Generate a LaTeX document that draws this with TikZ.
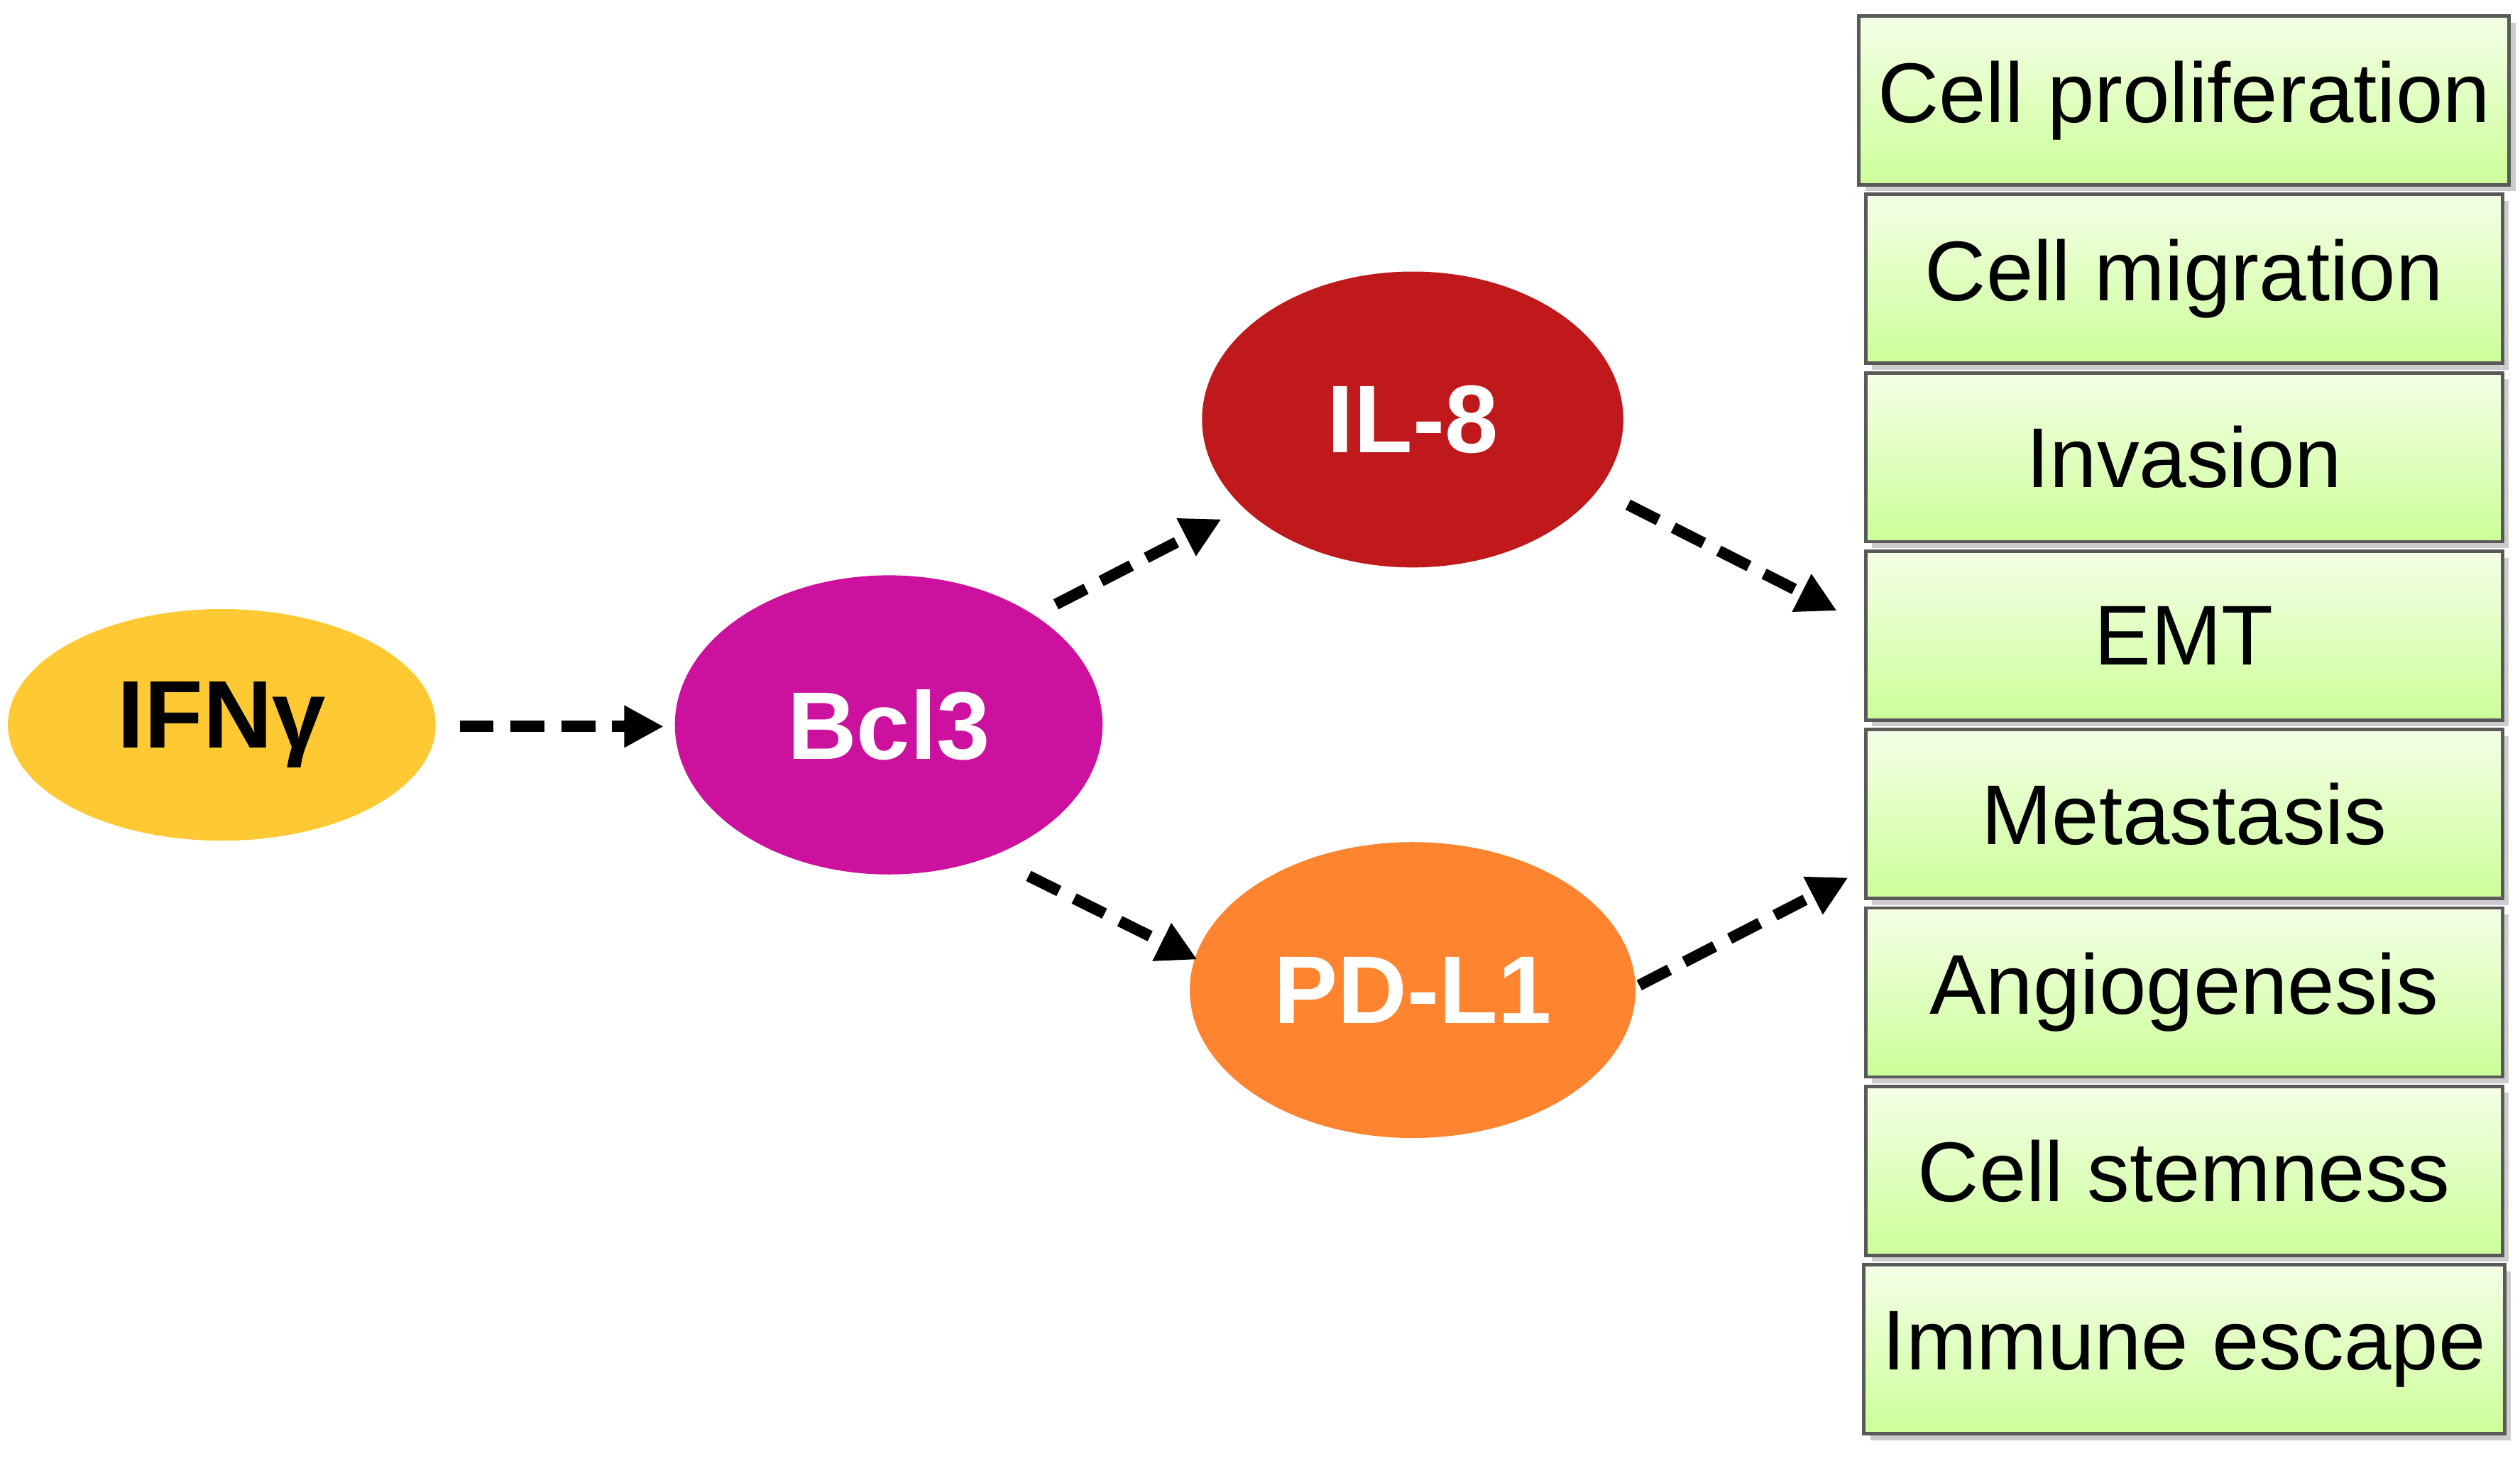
\documentclass[tikz,border=0pt]{standalone}
\usepackage{fontspec}
\setmainfont{Liberation Sans}
\usetikzlibrary{shapes.geometric,arrows.meta,shadows}
\definecolor{cy}{HTML}{FFC933}
\definecolor{cm}{HTML}{CC119E}
\definecolor{cr}{HTML}{C0191C}
\definecolor{co}{HTML}{FF8430}
\definecolor{gtop}{HTML}{F4FFE6}
\definecolor{gbot}{HTML}{CCFF99}
\begin{document}
\begin{tikzpicture}[x=0.01cm,y=-0.01cm,
 ell/.style={ellipse,draw=none,minimum width=2.62cm,minimum height=1.84cm,font=\fontsize{17}{20}\selectfont\bfseries,text=white},
 box/.style={rectangle,draw=gray!70!black,line width=0.6pt,top color=gtop,bottom color=gbot,minimum width=3.96cm,minimum height=1.05cm,font=\fontsize{15}{18}\selectfont,drop shadow={shadow xshift=0.04cm,shadow yshift=-0.04cm,opacity=0.4}},
 arr/.style={dashed,line width=2pt,dash pattern=on 6pt off 3pt,-{Triangle[length=7pt,width=7pt]}}]
\useasboundingbox (0,0) rectangle (1568,909);
\node[ell,fill=cy,text=black,minimum width=2.66cm,minimum height=1.44cm] (ifn) at (138,451) {IFNγ};
\node[ell,fill=cm,minimum width=2.66cm,minimum height=1.86cm] (bcl) at (553,451) {Bcl3};
\node[ell,fill=cr] (il) at (879,261) {IL-8};
\node[ell,fill=co] (pd) at (879,616) {PD-L1};
\foreach \t [count=\i] in {Cell proliferation,Cell migration,Invasion,EMT,Metastasis,Angiogenesis,Cell stemness,Immune escape}
  \node[box] (b\i) at (1359,{62.5+111*(\i-1)}) {\t};
\coordinate (a1s) at (286,452); \coordinate (a1e) at (413,452);
\coordinate (a2s) at (657,376); \coordinate (a2e) at (760,323);
\coordinate (a3s) at (640,545); \coordinate (a3e) at (745,597);
\coordinate (a4s) at (1013,314); \coordinate (a4e) at (1143,380);
\coordinate (a5s) at (1020,613); \coordinate (a5e) at (1150,546);
\foreach \k in {1,...,5} \draw[arr] (a\k s) -- (a\k e);
\end{tikzpicture}
\end{document}
